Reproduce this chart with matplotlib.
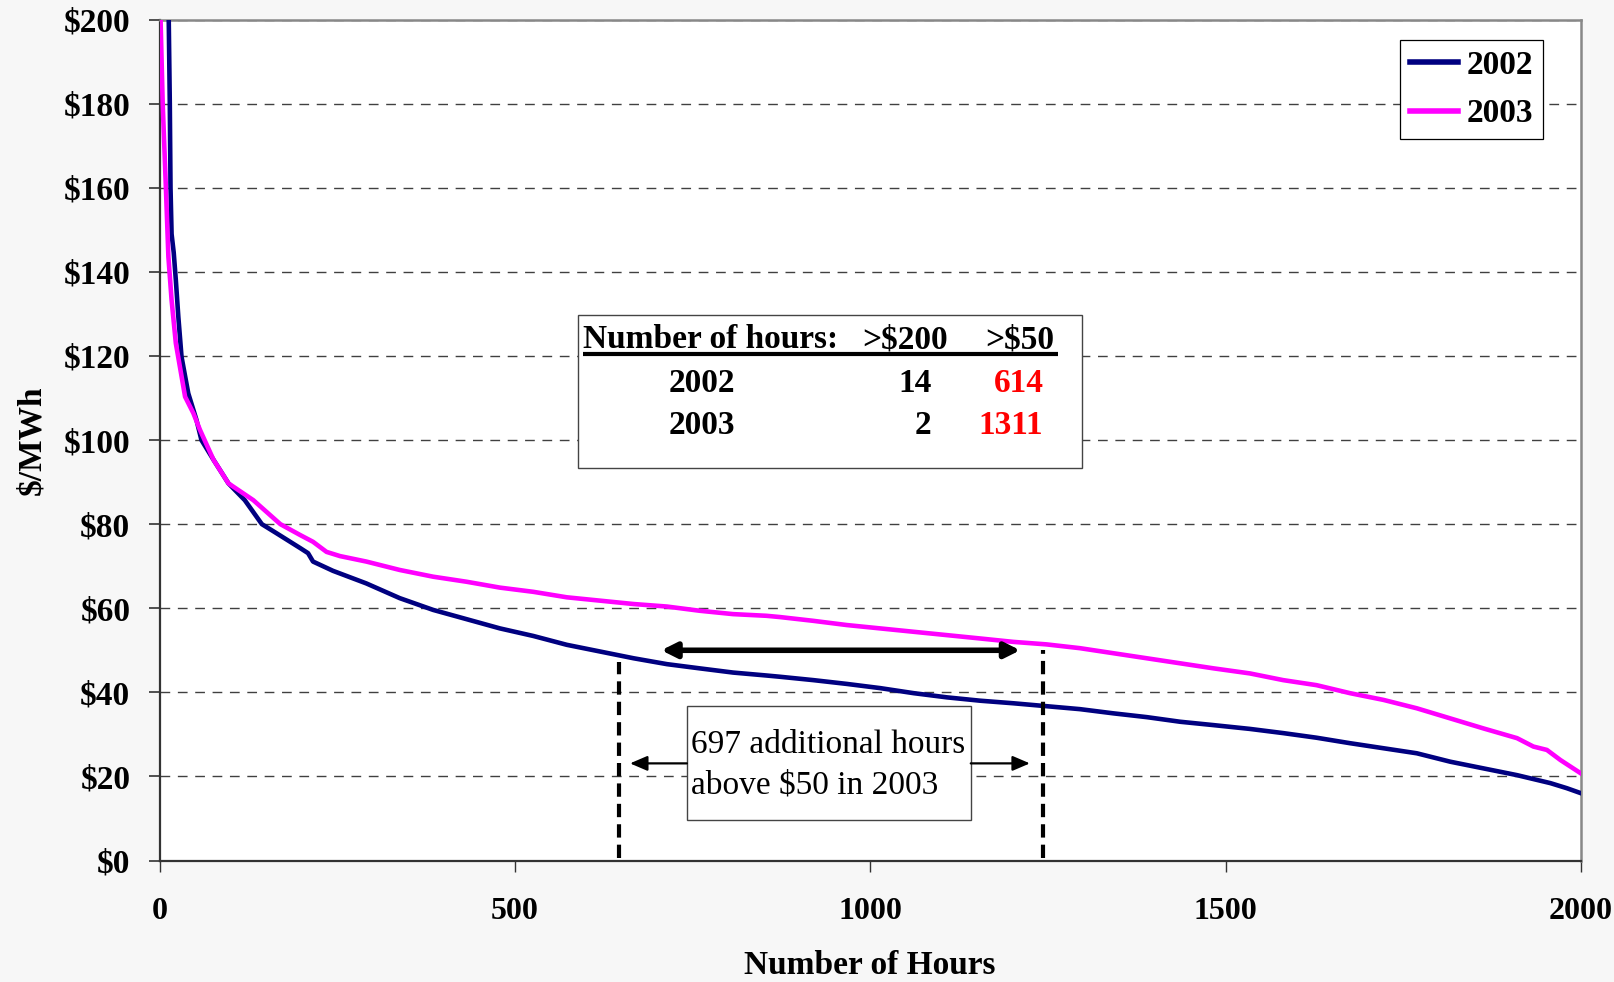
import matplotlib
matplotlib.use('Agg')
import matplotlib.pyplot as plt
from matplotlib.patches import Rectangle

# price duration curves ($/MWh vs sorted hour)
hours_2002 = [0, 13, 14.5, 15.5, 17, 20, 23, 26.5, 31, 40.5, 52, 59, 76, 97, 120, 144, 165,
              198, 209, 216, 244, 291, 338, 385, 432, 479, 526, 573, 620, 667, 714, 760, 807,
              854, 873, 920, 967, 1014, 1061, 1108, 1155, 1201, 1248, 1295, 1342, 1389, 1436,
              1483, 1534, 1581, 1628, 1675, 1722, 1769, 1816, 1863, 1910, 1957, 1980, 2000]
price_2002 = [420, 200, 180, 160, 149, 144.6, 138, 129.3, 119.8, 111.1, 104.8, 100, 95.3, 89.7,
              85.7, 80, 77.8, 74.3, 73.1, 71.1, 68.9, 65.9, 62.4, 59.6, 57.4, 55.2, 53.4, 51.3,
              49.7, 48.1, 46.7, 45.7, 44.7, 44.0, 43.7, 42.9, 42.0, 41.0, 39.8, 38.8, 38.0, 37.4,
              36.7, 36.0, 35.0, 34.1, 33.0, 32.2, 31.3, 30.3, 29.2, 27.9, 26.7, 25.5, 23.5, 21.9,
              20.3, 18.4, 17.2, 16.0]

hours_2003 = [0, 1.5, 4.5, 9, 12.5, 17, 23, 36, 47.6, 57, 76, 97, 132, 170, 198, 216, 235, 254,
              291, 338, 385, 432, 479, 526, 573, 620, 667, 714, 760, 807, 854, 873, 920, 967,
              1014, 1061, 1108, 1155, 1201, 1248, 1295, 1342, 1389, 1436, 1483, 1534, 1581,
              1628, 1675, 1722, 1769, 1816, 1863, 1910, 1933, 1952, 1971, 2000]
price_2003 = [240, 200, 180, 160, 143.6, 133.3, 123, 110.3, 106.4, 102.4, 95.3, 89.7, 85.7, 80,
              77.4, 75.8, 73.4, 72.4, 71.1, 69.1, 67.5, 66.3, 64.9, 63.9, 62.6, 61.8, 61.0, 60.4,
              59.4, 58.6, 58.2, 57.9, 57.0, 56.0, 55.2, 54.4, 53.6, 52.8, 52.0, 51.4, 50.5, 49.3,
              48.1, 46.9, 45.7, 44.5, 42.9, 41.7, 39.8, 38.2, 36.2, 33.8, 31.4, 29.1, 27.1, 26.3,
              23.9, 20.7]

series_labels = ['2002', '2003']
series_colors = ['#000080', '#ff00ff']

# summary table
table_years = ['2002', '2003']
hours_over_200 = [14, 2]
hours_over_50 = [614, 1311]
extra_hours = 697

y_ticks = list(range(0, 201, 20))
x_ticks = [0, 500, 1000, 1500, 2000]

plt.rcParams['font.family'] = ['Liberation Serif', 'DejaVu Serif']
plt.rcParams['font.weight'] = 'bold'

W, H = 1614, 982
fig = plt.figure(figsize=(W / 100, H / 100), dpi=100, facecolor='#f7f7f7')
x0, x1, ytop, ybot = 159.5, 1581, 19.6, 860.5
ax = fig.add_axes([x0 / W, 1 - ybot / H, (x1 - x0) / W, (ybot - ytop) / H])
ax.set_facecolor('white')

ax.plot(hours_2002, price_2002, color=series_colors[0], lw=3.3, label=series_labels[0], zorder=3)
ax.plot(hours_2003, price_2003, color=series_colors[1], lw=3.3, label=series_labels[1], zorder=3)

ax.set_xlim(0, 2000)
ax.set_ylim(0, 200)
ax.set_yticks(y_ticks)
ax.set_yticklabels(['${}'.format(v) for v in y_ticks])
ax.set_xticks(x_ticks)
ax.yaxis.grid(True, color='#404040', lw=1, linestyle=(0, (7, 5.5)))
ax.set_axisbelow(True)

ax.tick_params(axis='y', direction='out', length=8, width=1.2, color='#333333', pad=13,
               labelsize=24)
ax.tick_params(axis='x', direction='out', length=8, width=1, color='#333333', pad=18,
               labelsize=23)
for s in ['top', 'right']:
    ax.spines[s].set_color('#888888')
    ax.spines[s].set_linewidth(1.8)
for s in ['left', 'bottom']:
    ax.spines[s].set_color('#333333')
    ax.spines[s].set_linewidth(1.6)

ax.set_xlabel('Number of Hours', fontsize=24, fontweight='bold')
ax.xaxis.set_label_coords(0.5, -0.107)
ax.set_ylabel('$/MWh', fontsize=24, fontweight='bold')
ax.yaxis.set_label_coords(-0.079, 0.5)

leg = ax.legend(loc='upper right', bbox_to_anchor=(1543.3 / W, 1 - 40 / H),
                bbox_transform=fig.transFigure, borderaxespad=0, fancybox=False,
                edgecolor='black', framealpha=1, handlelength=1.45, handletextpad=0.25,
                borderpad=0.3, labelspacing=0.52,
                prop={'family': 'Liberation Serif', 'weight': 'bold', 'size': 24})
leg.get_frame().set_linewidth(0.9)
for h in leg.get_lines():
    h.set_linewidth(4)

# --- summary table box ---
ax.add_patch(Rectangle((589.3, 93.4), 708.3, 36.3, facecolor='white', edgecolor='#444444',
                       lw=1, zorder=4))
tk = dict(fontsize=24, fontweight='bold', va='baseline', zorder=5)
ax.text(596.3, 121.8, 'Number of hours:', ha='left', **tk)
ax.text(989.4, 121.8, '>$200', ha='left', **tk)
ax.text(1161.5, 121.8, '>$50', ha='left', **tk)
ax.plot([596.3, 1264.7], [120.4, 120.4], color='black', lw=3, solid_capstyle='butt', zorder=5)
row_y = [111.4, 101.4]
for yr, a, b, yy in zip(table_years, hours_over_200, hours_over_50, row_y):
    ax.text(716, yy, yr, ha='left', **tk)
    ax.text(1086.5, yy, str(a), ha='right', **tk)
    ax.text(1243.6, yy, str(b), ha='right', color='#ff0000', **tk)

# --- annotation of the extra hours above $50 ---
ax.annotate('', xy=(706, 50), xytext=(1211, 50),
            arrowprops=dict(arrowstyle='<|-|>,head_length=0.6,head_width=0.3',
                            mutation_scale=15, lw=4, color='black', shrinkA=0, shrinkB=0),
            zorder=5)
for xv, ytop_v in [(646.6, 47.3), (1243.6, 50)]:
    ax.plot([xv, xv], [0.5, ytop_v], color='black', lw=3, dashes=(3.2, 1.7), zorder=5)

ax.add_patch(Rectangle((742, 9.6), 399.4, 27.2, facecolor='white', edgecolor='#444444',
                       lw=1, zorder=4))
ax.text(747.4, 25.5, '{} additional hours'.format(extra_hours), fontsize=24,
        fontweight='normal', va='baseline', ha='left', zorder=5)
ax.text(747.4, 16.0, 'above $50 in 2003', fontsize=24, fontweight='normal',
        va='baseline', ha='left', zorder=5)
small = dict(arrowstyle='-|>,head_length=0.7,head_width=0.3', mutation_scale=15, lw=1.6,
             color='black', shrinkA=0, shrinkB=0)
ax.annotate('', xy=(662, 23.1), xytext=(742, 23.1), arrowprops=small, zorder=5)
ax.annotate('', xy=(1224.6, 23.1), xytext=(1141.4, 23.1), arrowprops=small, zorder=5)

fig.savefig('out.png', dpi=100, facecolor=fig.get_facecolor())
